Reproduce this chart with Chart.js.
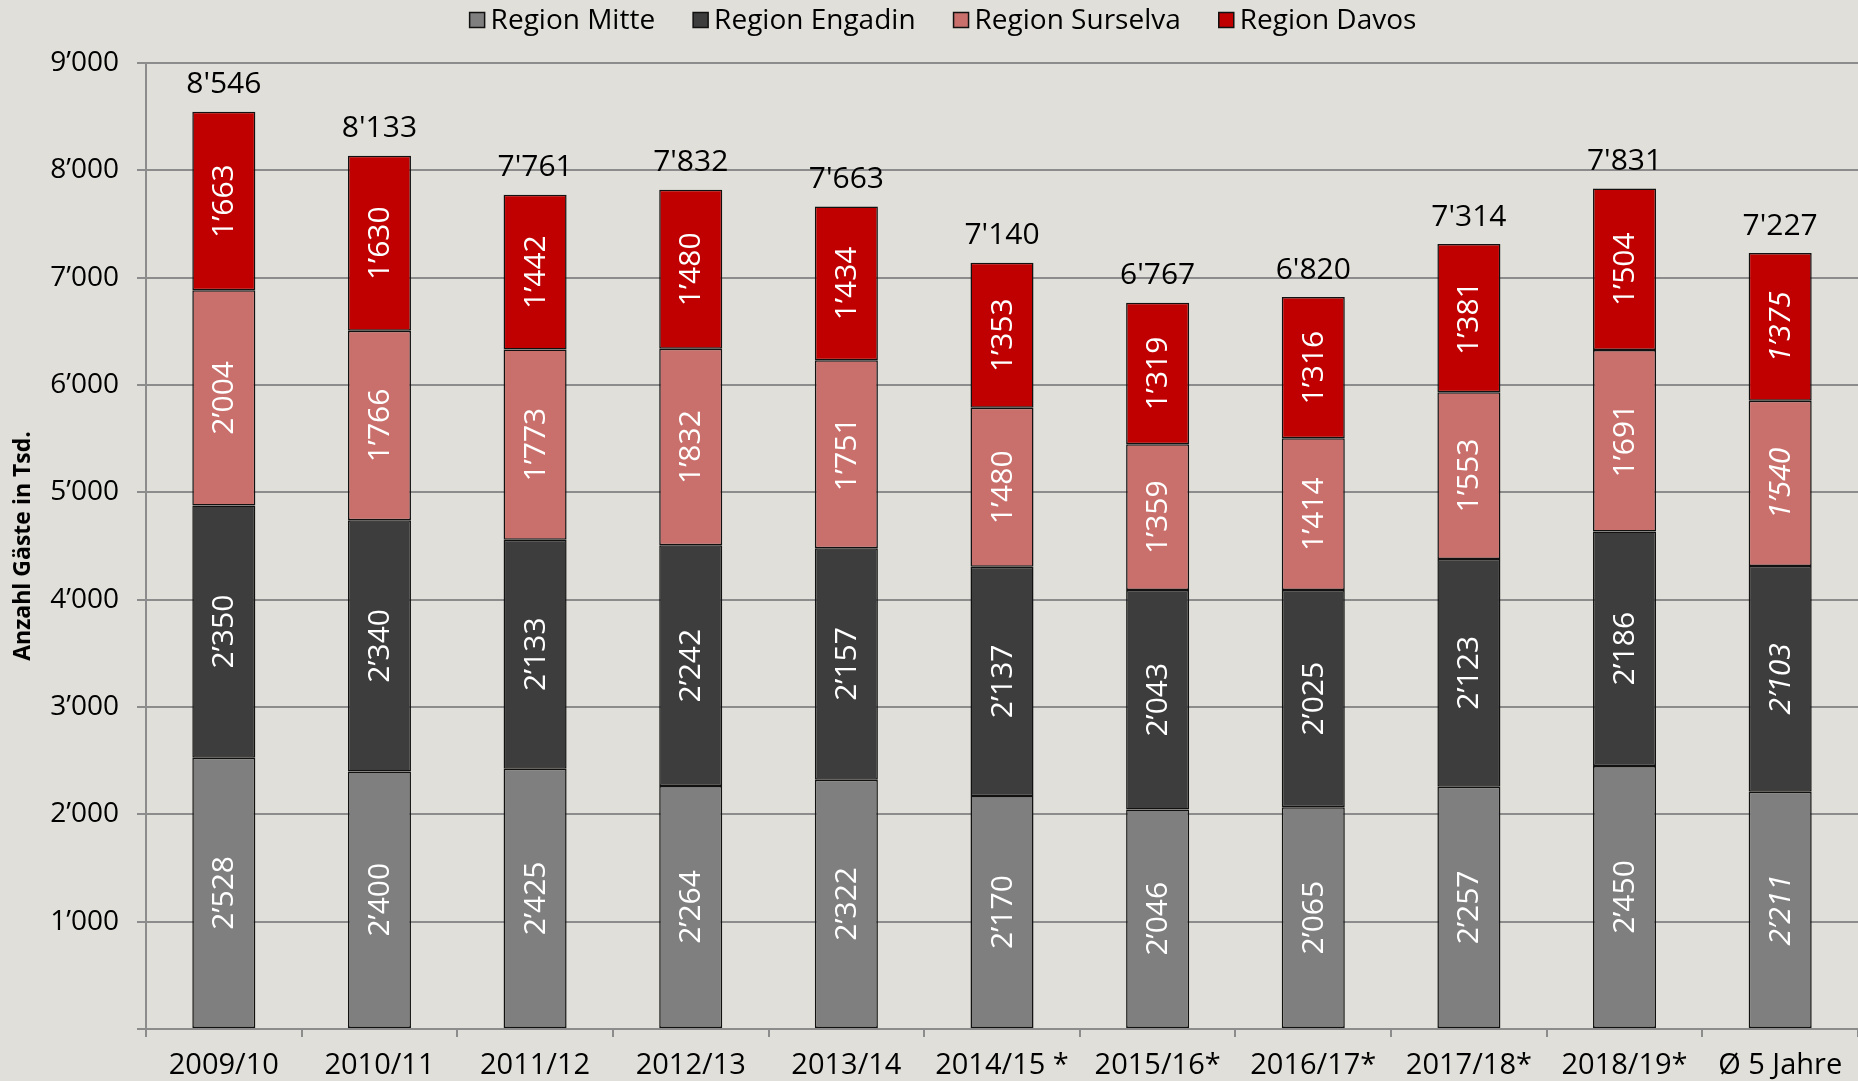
<!DOCTYPE html>
<html>
<head>
<meta charset="utf-8">
<script src="https://cdn.jsdelivr.net/npm/chart.js@4.4.1/dist/chart.umd.min.js"></script>
<style>
  html, body { margin: 0; padding: 0; background: #e0dfd9; }
  #c { display: block; }
</style>
</head>
<body>
<canvas id="c" width="1858" height="1081"></canvas>
<script>
// ======= Data =======
const seasons  = ["2009/10", "2010/11", "2011/12", "2012/13", "2013/14", "2014/15 *",
                  "2015/16*", "2016/17*", "2017/18*", "2018/19*", "Ø 5 Jahre"];
const mitte    = [2528, 2400, 2425, 2264, 2322, 2170, 2046, 2065, 2257, 2450, 2211];
const engadin  = [2350, 2340, 2133, 2242, 2157, 2137, 2043, 2025, 2123, 2186, 2103];
const surselva = [2004, 1766, 1773, 1832, 1751, 1480, 1359, 1414, 1553, 1691, 1540];
const davos    = [1663, 1630, 1442, 1480, 1434, 1353, 1319, 1316, 1381, 1504, 1375];
const totals   = [8546, 8133, 7761, 7832, 7663, 7140, 6767, 6820, 7314, 7831, 7227];
const yTicks   = [0, 1000, 2000, 3000, 4000, 5000, 6000, 7000, 8000, 9000];

// ======= Helpers =======
const FONT = "'Open Sans', 'DejaVu Sans', sans-serif";
const GRID = "#8c8c8c";
const fmt = (n, sep) => String(n).replace(/\B(?=(\d{3})+(?!\d))/g, sep);

// segment + total labels
const labelPlugin = {
  id: "labels",
  afterDatasetsDraw(chart) {
    const ctx = chart.ctx;
    ctx.save();
    ctx.textAlign = "center";
    ctx.textBaseline = "middle";
    chart.data.datasets.forEach((ds, di) => {
      const meta = chart.getDatasetMeta(di);
      meta.data.forEach((bar, i) => {
        const cy = (bar.y + bar.base) / 2;
        const italic = i === seasons.length - 1 ? "italic " : "";
        ctx.save();
        ctx.translate(bar.x, cy);
        ctx.rotate(-Math.PI / 2);
        ctx.fillStyle = "#ffffff";
        ctx.font = italic + "30px " + FONT;
        ctx.fillText(fmt(ds.data[i], "’"), 0, 1);
        ctx.restore();
      });
    });
    // totals above the stack
    const top = chart.getDatasetMeta(chart.data.datasets.length - 1);
    ctx.fillStyle = "#000";
    ctx.font = "30px " + FONT;
    top.data.forEach((bar, i) => {
      ctx.fillText(fmt(totals[i], "'"), bar.x, bar.y - 27);
    });
    ctx.restore();
  }
};

// legend drawn by hand (tight vertical spot, wide item gaps)
const legendPlugin = {
  id: "topLegend",
  afterDraw(chart) {
    const ctx = chart.ctx;
    ctx.save();
    ctx.font = "28px " + FONT;
    ctx.textBaseline = "middle";
    const box = 15, gapBox = 6, gapItem = 38, y = 20;
    const items = chart.data.datasets.map(d => ({ text: d.label, color: d.backgroundColor, w: ctx.measureText(d.label).width }));
    const total = items.reduce((a, it) => a + box + gapBox + it.w, 0) + gapItem * (items.length - 1);
    let x = 943 - total / 2;
    items.forEach(it => {
      ctx.fillStyle = it.color;
      ctx.fillRect(x, y - box / 2, box, box);
      ctx.strokeStyle = "#111";
      ctx.lineWidth = 1.5;
      ctx.strokeRect(x, y - box / 2, box, box);
      ctx.fillStyle = "#000";
      ctx.fillText(it.text, x + box + gapBox, y + 1);
      x += box + gapBox + it.w + gapItem;
    });
    ctx.restore();
  }
};

const bgPlugin = {
  id: "bg",
  beforeDraw(chart) {
    const ctx = chart.ctx;
    ctx.save();
    ctx.fillStyle = "#e0dfd9";
    ctx.fillRect(0, 0, chart.width, chart.height);
    ctx.restore();
  }
};

const mk = (label, data, color) => ({
  label, data,
  backgroundColor: color,
  borderColor: "#111",
  borderWidth: 1.5,
  borderSkipped: false,
  barPercentage: 0.405,
  categoryPercentage: 1
});

new Chart(document.getElementById("c"), {
  type: "bar",
  data: {
    labels: seasons,
    datasets: [
      mk("Region Mitte", mitte, "#7f7f7f"),
      mk("Region Engadin", engadin, "#3d3d3d"),
      mk("Region Surselva", surselva, "#c9706c"),
      mk("Region Davos", davos, "#c00000")
    ]
  },
  options: {
    responsive: false,
    devicePixelRatio: 1,
    animation: false,
    layout: { padding: { top: 63, left: 0, right: 0, bottom: 0 } },
    plugins: {
      legend: { display: false },
      tooltip: { enabled: false }
    },
    scales: {
      x: {
        stacked: true,
        grid: { drawOnChartArea: false, drawTicks: true, tickLength: 8, color: GRID, lineWidth: 2, offset: true },
        border: { color: GRID, width: 2 },
        ticks: { color: "#000", font: { size: 29, family: FONT }, padding: 11, maxRotation: 0, autoSkip: false },
        afterFit(scale) { scale.height = 52; }
      },
      y: {
        stacked: true,
        min: yTicks[0],
        max: yTicks[yTicks.length - 1],
        afterBuildTicks(scale) { scale.ticks = yTicks.map(v => ({ value: v })); },
        grid: { color: GRID, lineWidth: 2, tickLength: 9 },
        border: { color: GRID, width: 2 },
        ticks: {
          color: "#000",
          font: { size: 28, family: FONT },
          padding: 18,
          callback: v => v === 0 ? "" : fmt(v, "’")
        },
        title: {
          display: true,
          text: "Anzahl Gäste in Tsd.",
          color: "#000",
          font: { size: 23, weight: "bold", family: FONT },
          padding: { top: 10, bottom: 0 }
        },
        afterFit(scale) { scale.width = 146; }
      }
    }
  },
  plugins: [bgPlugin, labelPlugin, legendPlugin]
});
</script>
</body>
</html>
